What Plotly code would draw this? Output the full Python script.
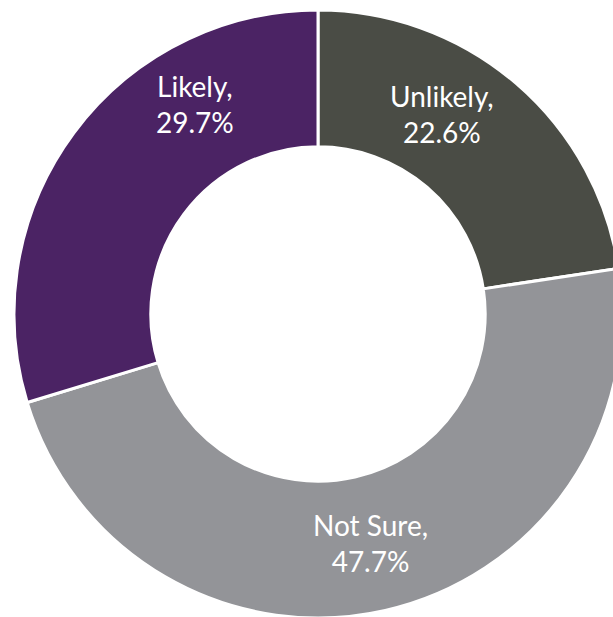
import plotly.graph_objects as go

# Survey response shares (percent), clockwise from 12 o'clock
categories = ["Unlikely", "Not Sure", "Likely"]
shares = [22.6, 47.7, 29.7]
colors = ["#4A4C45", "#939498", "#4B2364"]

W, H = 630, 630
cx, cy, R = 318, 314, 304          # ring centre and outer radius, px
label_px = {"Unlikely": (442, 114), "Not Sure": (370, 543), "Likely": (195, 104)}

fig = go.Figure(go.Pie(
    labels=categories,
    values=shares,
    hole=0.55,
    sort=False,
    direction="clockwise",
    rotation=0,
    marker=dict(colors=colors, line=dict(color="white", width=3)),
    textinfo="none",
    hoverinfo="label+value",
    showlegend=False,
    domain=dict(x=[(cx - R) / W, (cx + R) / W],
                y=[1 - (cy + R) / H, 1 - (cy - R) / H]),
))

for name, val in zip(categories, shares):
    px, py = label_px[name]
    fig.add_annotation(
        x=px / W, y=1 - py / H, xref="paper", yref="paper",
        text=f"{name},<br>{val:.1f}%", showarrow=False,
        xanchor="center", yanchor="middle",
        font=dict(family="Lato", size=28, color="white"),
    )

fig.update_layout(
    width=W, height=H, autosize=False,
    margin=dict(l=0, r=0, t=0, b=0),
    paper_bgcolor="white", plot_bgcolor="white",
)

fig.write_html(
    "out.html",
    post_script="document.documentElement.style.overflow='hidden';"
                "document.body.style.overflow='hidden';"
                "document.body.style.margin='0';",
)
